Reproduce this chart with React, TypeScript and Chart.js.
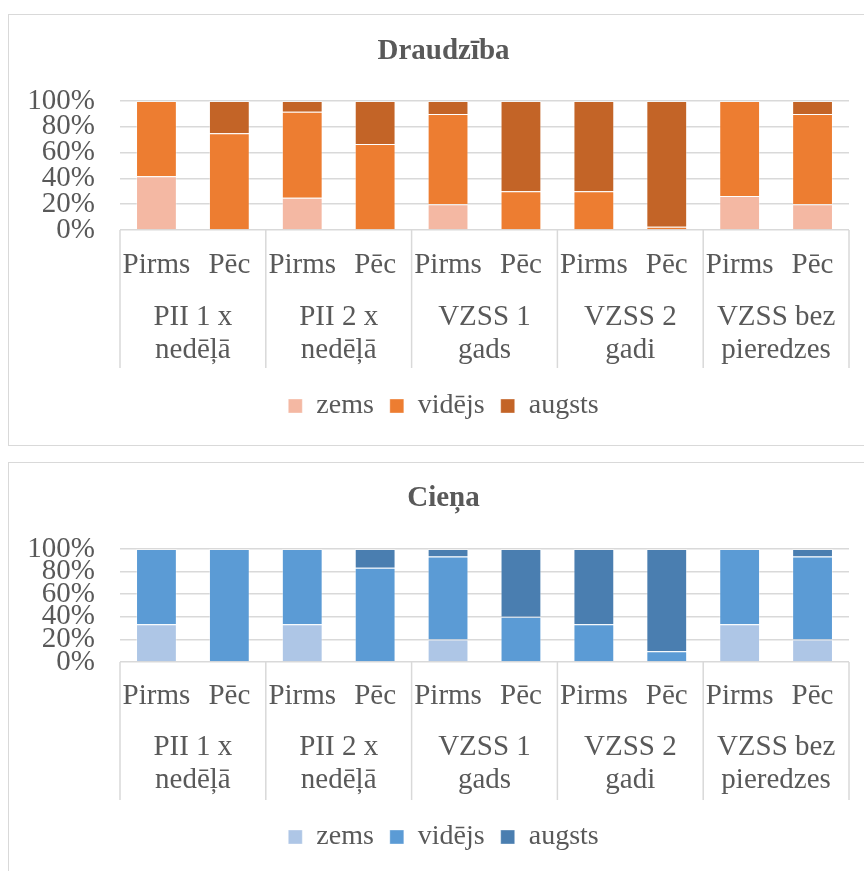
import React, { useEffect, useRef } from "react";
import { Chart, registerables } from "chart.js";

Chart.register(...registerables);

// ---- data ----
const categories = ["Pirms", "Pēc", "Pirms", "Pēc", "Pirms", "Pēc", "Pirms", "Pēc", "Pirms", "Pēc"];
const groups = [
  ["PII 1 x", "nedēļā"],
  ["PII 2 x", "nedēļā"],
  ["VZSS 1", "gads"],
  ["VZSS 2", "gadi"],
  ["VZSS bez", "pieredzes"],
];
const seriesNames = ["zems", "vidējs", "augsts"];
const yTickValues = [0, 20, 40, 60, 80, 100];

const draudzibaTitle = "Draudzība";
const draudzibaZems = [41.7, 0, 25, 0, 20, 0, 0, 0, 26.3, 20];
const draudzibaVidejs = [58.3, 75, 66.7, 66.7, 70, 30, 30, 2.6, 73.7, 70];
const draudzibaAugsts = [0, 25, 8.3, 33.3, 10, 70, 70, 97.4, 0, 10];

const cienaTitle = "Cieņa";
const cienaZems = [33.3, 0, 33.3, 0, 20, 0, 0, 0, 33.3, 20];
const cienaVidejs = [66.7, 100, 66.7, 83.3, 73.3, 40, 33.3, 9.5, 66.7, 73.3];
const cienaAugsts = [0, 0, 0, 16.7, 6.7, 60, 66.7, 90.5, 0, 6.7];

const orangeColors = ["#F4B8A3", "#ED7D31", "#C36427"];
const blueColors = ["#AEC6E6", "#5B9BD5", "#4A7EB0"];

// ---- styles ----
const FONT = '"Liberation Serif", "Times New Roman", serif';
const TEXT = "#595959";
const GRID = "#d9d9d9";
const TICK_SIZE = 29;
const TICK_LH = 1.15;

const separatorPlugin = {
  id: "groupSeparators",
  afterLayout(chart: any) {
    // let the y tick labels use the space left of the axis without clipping
    const y = chart.scales.y;
    if (y) y.left = 0;
  },
  afterDraw(chart: any, _args: any, opts: any) {
    const x = chart.scales.x;
    const x2 = chart.scales.x2;
    const { ctx, chartArea } = chart;
    const xs: number[] = [chartArea.left];
    for (let k = 1; k < groups.length; k++) {
      xs.push((x.getPixelForValue(2 * k - 1) + x.getPixelForValue(2 * k)) / 2);
    }
    xs.push(chartArea.right);
    const endY = x2.top + (opts.length || 80);
    ctx.save();
    ctx.strokeStyle = GRID;
    ctx.lineWidth = 1.5;
    xs.forEach((px) => {
      ctx.beginPath();
      ctx.moveTo(px, chartArea.bottom);
      ctx.lineTo(px, endY);
      ctx.stroke();
    });
    ctx.restore();
  },
};

type Lay = {
  titleTop: number;
  titleBottom: number;
  xPad: number;
  xHeight: number;
  x2Pad: number;
  x2Height: number;
  sepLen: number;
  legendPad: number;
  layoutBottom: number;
};

function makeConfig(title: string, series: number[][], colors: string[], lay: Lay): any {
  const tickFont = { family: FONT, size: TICK_SIZE, lineHeight: TICK_LH };
  return {
    type: "bar",
    data: {
      labels: categories,
      datasets: series.map((d, i) => ({
        label: seriesNames[i],
        data: d,
        backgroundColor: colors[i],
        borderColor: "rgba(255,255,255,0.35)",
        borderWidth: 1,
        barPercentage: 0.56,
        categoryPercentage: 1,
        xAxisID: "x",
      })),
    },
    options: {
      responsive: false,
      animation: false,
      devicePixelRatio: 1,
      layout: { padding: { left: 30, right: 15, top: 0, bottom: lay.layoutBottom } },
      plugins: {
        title: {
          display: true,
          text: title,
          color: TEXT,
          font: { family: FONT, size: 29, weight: "bold", lineHeight: 1.2 },
          padding: { top: lay.titleTop, bottom: lay.titleBottom },
        },
        legend: {
          position: "bottom",
          labels: {
            color: TEXT,
            font: { family: FONT, size: 28, lineHeight: 1.2 },
            boxWidth: 14,
            boxHeight: 14,
            padding: lay.legendPad,
          },
        },
        tooltip: { enabled: false },
        groupSeparators: { length: lay.sepLen },
      },
      scales: {
        x: {
          stacked: true,
          grid: { display: false, drawTicks: false },
          border: { display: false },
          ticks: {
            color: TEXT,
            font: tickFont,
            padding: lay.xPad,
            autoSkip: false,
            maxRotation: 0,
            minRotation: 0,
          },
          afterFit: (s: any) => {
            s.height = lay.xHeight;
          },
        },
        x2: {
          type: "category",
          position: "bottom",
          labels: groups,
          offset: true,
          grid: { display: false, drawTicks: false },
          border: { display: false },
          ticks: {
            color: TEXT,
            font: tickFont,
            padding: lay.x2Pad,
            autoSkip: false,
            maxRotation: 0,
            minRotation: 0,
          },
          afterFit: (s: any) => {
            s.height = lay.x2Height;
          },
        },
        y: {
          stacked: true,
          min: 0,
          max: 100,
          afterBuildTicks: (s: any) => {
            s.ticks = yTickValues.map((v) => ({ value: v }));
          },
          grid: { color: GRID, lineWidth: 1.5, drawTicks: false },
          border: { display: false },
          ticks: {
            stepSize: 20,
            autoSkip: false,
            color: TEXT,
            font: tickFont,
            padding: 25,
            callback: (v: any) => v + "%",
          },
          afterFit: (s: any) => {
            s.width = 82;
          },
        },
      },
    },
    plugins: [separatorPlugin],
  };
}

function ChartBox(props: {
  top: number;
  boxHeight: number;
  canvasHeight: number;
  title: string;
  series: number[][];
  colors: string[];
  lay: Lay;
}) {
  const ref = useRef<HTMLCanvasElement | null>(null);
  useEffect(() => {
    if (!ref.current) return;
    const chart = new Chart(ref.current, makeConfig(props.title, props.series, props.colors, props.lay));
    return () => chart.destroy();
  }, []);
  return (
    <>
      <div
        style={{
          position: "absolute",
          left: 0,
          top: props.top,
          width: 870,
          height: props.boxHeight,
          border: "1.5px solid #d9d9d9",
          boxSizing: "border-box",
          background: "#fff",
        }}
      />
      <canvas
        ref={ref}
        width={856}
        height={props.canvasHeight}
        style={{ position: "absolute", left: 0, top: props.top, width: 856, height: props.canvasHeight }}
      />
    </>
  );
}

export default function App() {
  return (
    <div
      style={{
        position: "absolute",
        left: 8,
        top: 8,
        width: 856,
        height: 863,
        overflow: "hidden",
        background: "#fff",
      }}
    >
      <ChartBox
        top={5.5}
        boxHeight={432}
        canvasHeight={432}
        title={draudzibaTitle}
        series={[draudzibaZems, draudzibaVidejs, draudzibaAugsts]}
        colors={orangeColors}
        lay={{ titleTop: 20.6, titleBottom: 31.6, xPad: 18.3, xHeight: 55, x2Pad: 15.3, x2Height: 91, sepLen: 83, legendPad: 16, layoutBottom: 16 }}
      />
      <ChartBox
        top={453.7}
        boxHeight={430}
        canvasHeight={412}
        title={cienaTitle}
        series={[cienaZems, cienaVidejs, cienaAugsts]}
        colors={blueColors}
        lay={{ titleTop: 19.6, titleBottom: 32.6, xPad: 17.3, xHeight: 54, x2Pad: 14.3, x2Height: 91, sepLen: 84, legendPad: 16, layoutBottom: 13 }}
      />
    </div>
  );
}
